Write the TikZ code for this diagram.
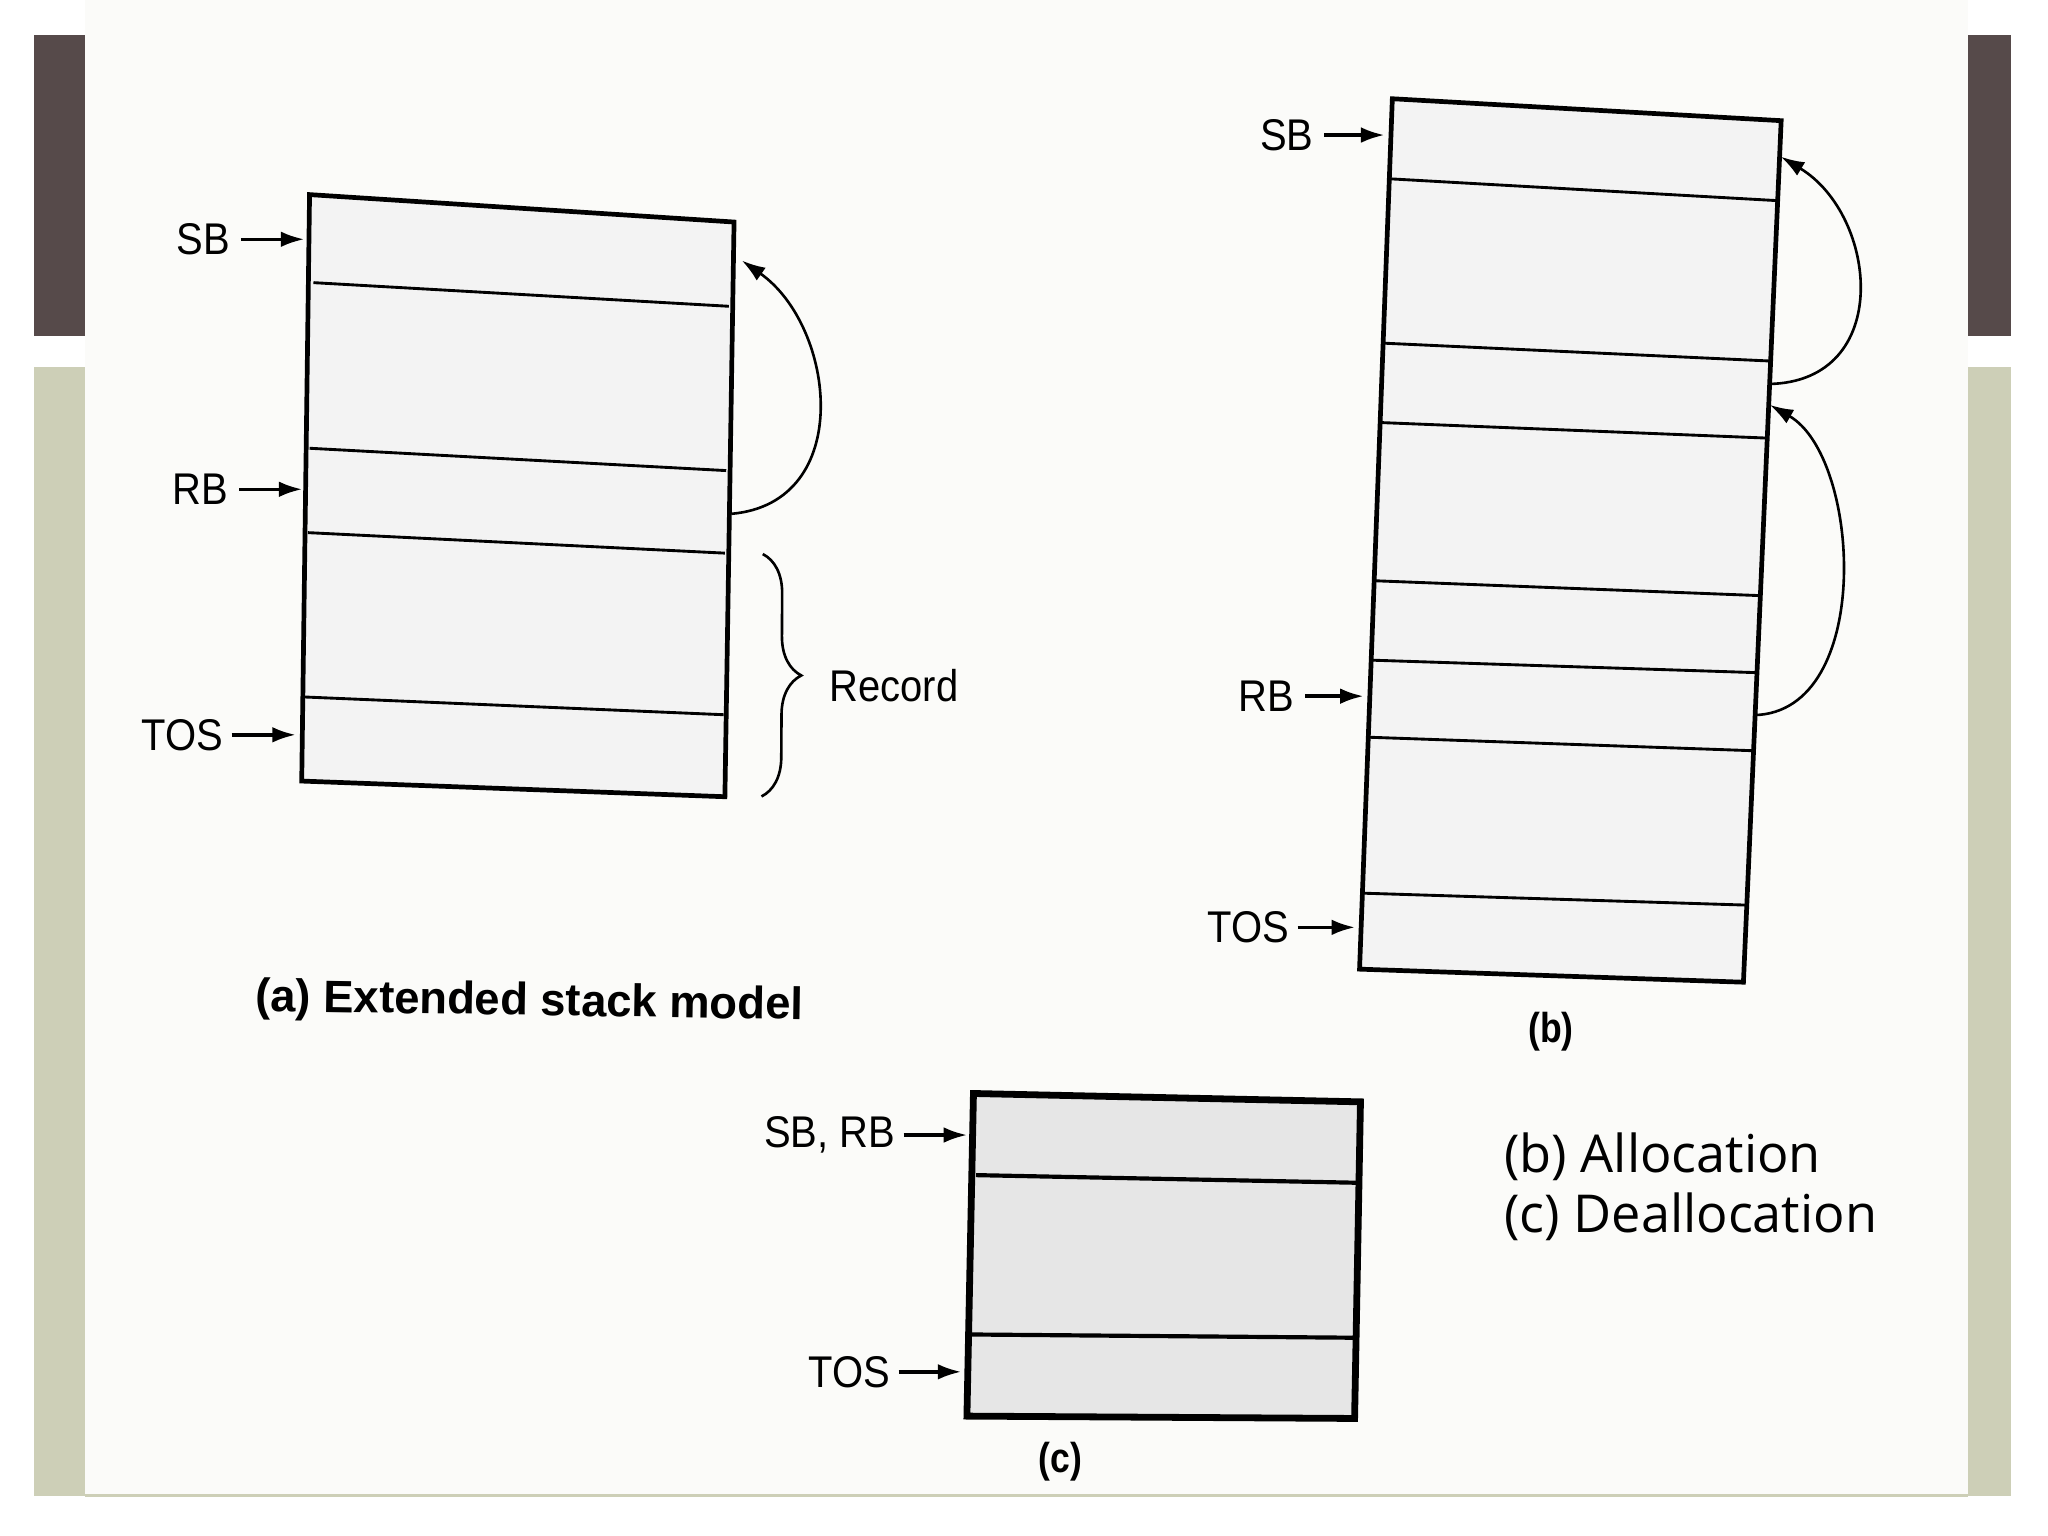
\documentclass[tikz,border=0pt]{standalone}
\usepackage{fontspec}
\setmainfont{Liberation Sans}
\newfontfamily\osans{Open Sans}
\usetikzlibrary{arrows.meta,decorations.pathreplacing}
\definecolor{darkbar}{RGB}{86,74,74}
\definecolor{lightbar}{RGB}{205,207,183}
\definecolor{scan}{RGB}{251,251,249}
\definecolor{cellfill}{RGB}{243,243,243}
\definecolor{cellfillc}{RGB}{230,230,230}
\newcommand\nar[1]{\scalebox{0.9}[1]{#1}}
\newcommand\narb[1]{\scalebox{0.85}[1]{#1}}
\begin{document}
\begin{tikzpicture}[x=0.5pt,y=-0.5pt,
  lbl/.style={font=\fontsize{17}{20}\selectfont, inner sep=0pt},
  figcap/.style={font=\bfseries\fontsize{16}{19}\selectfont, inner sep=0pt},
  ptr/.style={-{Latex[length=9pt,width=6pt]}, line width=1.3pt},
  frame/.style={line width=1.8pt, fill=cellfill, line join=miter},
  framec/.style={line width=2.6pt, fill=cellfillc, line join=miter},
  divider/.style={line width=1.1pt},
  dividerc/.style={line width=1.6pt},
  link/.style={-{Latex[length=9pt,width=6pt]}, line width=1pt},
  note/.style={font=\osans\fontsize{20}{24}\selectfont, anchor=west, inner sep=0pt}
]
\useasboundingbox (0,0) rectangle (1568,1176);
\fill[white] (0,0) rectangle (1568,1176);
\fill[scan] (65,0) rectangle (1507,1145);
\fill[darkbar] (26,27) rectangle (65,257);
\fill[lightbar] (26,281) rectangle (65,1145);
\fill[darkbar] (1507,27) rectangle (1540,257);
\fill[lightbar] (1507,281) rectangle (1540,1145);
\draw[lightbar, line width=1.2pt] (65,1145) -- (1507,1145);

% ---------- (a) ----------
\coordinate (aTL) at (237,149);
\coordinate (aTR) at (562,170);
\coordinate (aBR) at (555,610);
\coordinate (aBL) at (231,598);
\draw[frame] (aTL) -- (aTR) -- (aBR) -- (aBL) -- cycle;
\draw[divider] (240,216.4) -- (558,234.5);
\draw[divider] (237,343.2) -- (556,360.3);
\draw[divider] (235.7,407.8) -- (555,423.5);
\draw[divider] (232.6,533.6) -- (554,547.2);

\node[lbl] (aSB) at (155.7,183.2) {\nar{SB}};
\coordinate (aSBp) at (233,183.2);
\draw[ptr] ([xshift=4pt]aSB.east) -- (aSBp);
\node[lbl] (aRB) at (153.5,374.6) {\nar{RB}};
\coordinate (aRBp) at (231.5,374.6);
\draw[ptr] ([xshift=4pt]aRB.east) -- (aRBp);
\node[lbl] (aTOS) at (139.7,562.6) {\nar{TOS}};
\coordinate (aTOSp) at (226.5,562.6);
\draw[ptr] ([xshift=3pt]aTOS.east) -- (aTOSp);

\coordinate (aLinkS) at (560,393.4);
\coordinate (aLinkE) at (568,199.5);
\draw[link] (aLinkS) .. controls (655,385) and (640,250) .. (aLinkE);

\coordinate (br1) at (584,424.2);
\coordinate (br2) at (583,609.8);
\draw[decorate, decoration={brace, amplitude=15pt}, line width=1pt] (br1) -- (br2);
\node[lbl, anchor=west] (rec) at (634.8,525) {\nar{Record}};

\node[font=\bfseries\fontsize{17.4}{20}\selectfont, anchor=west, inner sep=0pt, rotate=-0.9] (capa) at (195.2,765) {(a) Extended stack model};

% ---------- (b) ----------
\coordinate (bTL) at (1066,75.6);
\coordinate (bTR) at (1363.7,92.4);
\coordinate (bBR) at (1334.8,752);
\coordinate (bBL) at (1040.9,742);
\draw[frame] (bTL) -- (bTR) -- (bBR) -- (bBL) -- cycle;
\draw[divider] (1064,136.9) -- (1360.5,153.6);
\draw[divider] (1058.5,262.7) -- (1355,276.4);
\draw[divider] (1056.5,323.5) -- (1352.5,335.4);
\draw[divider] (1051.5,444.6) -- (1347,456);
\draw[divider] (1049,505.4) -- (1345,515);
\draw[divider] (1047,564.4) -- (1343,574.8);
\draw[divider] (1042.5,683.8) -- (1338,693);

\node[lbl] (bSB) at (985.2,103.4) {\nar{SB}};
\coordinate (bSBp) at (1060,103.4);
\draw[ptr] ([xshift=4pt]bSB.east) -- (bSBp);
\node[lbl] (bRB) at (969.5,533) {\nar{RB}};
\coordinate (bRBp) at (1044,533);
\draw[ptr] ([xshift=4pt]bRB.east) -- (bRBp);
\node[lbl] (bTOS) at (956,710) {\nar{TOS}};
\coordinate (bTOSp) at (1037.5,710);
\draw[ptr] ([xshift=3pt]bTOS.east) -- (bTOSp);

\coordinate (bL1S) at (1354.5,294);
\coordinate (bL1E) at (1363.5,120);
\draw[link] (bL1S) .. controls (1450,292) and (1438,165) .. (bL1E);
\coordinate (bL2S) at (1343.3,547.5);
\coordinate (bL2E) at (1355,310);
\draw[link] (bL2S) .. controls (1435,545) and (1425,350) .. (bL2E);

\node[figcap] (capb) at (1187.5,790) {\narb{(b)}};

% ---------- (c) ----------
\coordinate (cTL) at (745.3,837.2);
\coordinate (cTR) at (1041.6,843.6);
\coordinate (cBR) at (1037.1,1086);
\coordinate (cBL) at (740.3,1084.2);
\draw[framec] (cTL) -- (cTR) -- (cBR) -- (cBL) -- cycle;
\draw[dividerc] (747.2,899.7) -- (1041.6,905.6);
\draw[dividerc] (742.2,1021.7) -- (1037.1,1024.2);

\node[lbl] (cSB) at (635.2,869) {\nar{SB, RB}};
\coordinate (cSBp) at (740.5,869);
\draw[ptr] ([xshift=3pt]cSB.east) -- (cSBp);
\node[lbl] (cTOS) at (650.5,1050.3) {\nar{TOS}};
\coordinate (cTOSp) at (736,1050.3);
\draw[ptr] ([xshift=3pt]cTOS.east) -- (cTOSp);

\node[figcap] (capc) at (812,1119.2) {\narb{(c)}};

% ---------- notes ----------
\node[note] (n1) at (1151.3,885.7) {(b) Allocation};
\node[note] (n2) at (1151.3,931.6) {(c) Deallocation};
\end{tikzpicture}
\end{document}
